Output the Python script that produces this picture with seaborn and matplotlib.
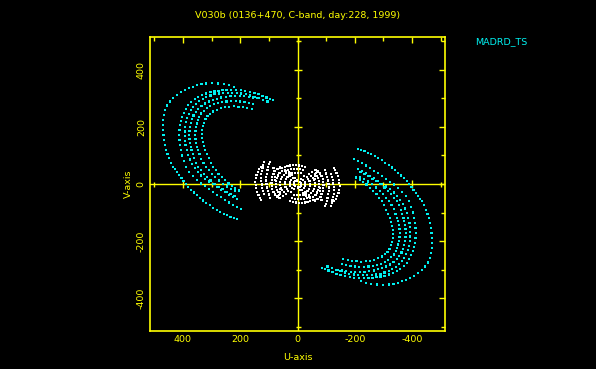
import pandas as pd
import matplotlib
matplotlib.use('Agg')
import matplotlib.pyplot as plt
from matplotlib.ticker import MultipleLocator
import seaborn as sns

# (u, v) samples, upper-left crescent of the MADRD_TS baseline
madrd_t1 = [(223,341),(240,346),(258,350),(279,352),(300,353),(318,352),(335,350),(350,346),(364,341),
            (379,336),(393,330),(408,322),(422,312),(435,301),(446,289),(455,275),(463,260),(467,243),
            (469,225),(470,208),(469,190),(468,172),(466,154),(462,136),(458,119),(454,104),(449,90),
            (442,75),(434,61),(428,52),(422,43),(414,31),(405,20),(398,10),(390,0),(381,-10),(372,-20),
            (362,-30),(352,-40),(341,-49),(330,-58),(318,-67),(306,-75),(294,-83),(282,-90),(270,-97),
            (258,-104),(246,-110),(234,-115),(222,-119),(210,-122)]
madrd_t2 = [(86,293),(95,297),(108,303),(122,309),(136,314),(150,318),(165,322),(182,326),(198,328),
            (215,330),(231,330),(248,330),(262,329),(276,327),(290,324),(304,321),(318,317),(332,312),
            (346,305),(358,297),(371,288),(381,277),(390,264),(397,250),(403,236),(407,222),(410,207),
            (412,190),(413,172),(412,155),(410,137),(407,119),(402,100),(396,80),(388,61),(378,43),
            (366,27),(352,13),(338,2),(324,-8),(310,-18),(296,-28),(282,-38),(268,-47),(254,-56),
            (240,-65),(226,-74),(212,-82),(198,-89)]
madrd_t3 = [(105,289),(120,295),(135,301),(150,306),(165,310),(180,314),(196,317),(212,319),(228,320),
            (244,320),(260,319),(275,317),(290,314),(304,310),(318,305),(331,298),(343,290),(354,281),
            (364,270),(372,258),(379,245),(385,231),(389,216),(392,200),(394,184),(394,168),(393,152),
            (391,136),(387,120),(382,103),(376,86),(368,70),(359,56),(348,42),(336,30),(323,19),
            (310,9),(296,-1),(282,-11),(268,-20),(254,-29),(240,-38),(226,-46),(212,-54)]
madrd_t4 = [(140,300),(155,303),(170,305),(186,307),(202,308),(218,308),(234,307),(250,305),(266,303),
            (281,299),(296,295),(310,289),(323,282),(335,273),(346,263),(355,252),(363,240),(369,227),
            (373,214),(376,200),(377,186),(378,172),(377,158),(376,144),(373,130),(370,119),(366,104),
            (361,90),(354,75),(346,61),(337,48),(327,36),(316,24),(304,12),(290,0),(276,-10),
            (262,-19),(248,-27),(234,-35),(220,-42)]
madrd_t5 = [(155,280),(170,284),(185,287),(200,289),(216,290),(232,290),(248,289),(263,287),(278,284),
            (292,279),(305,273),(317,266),(327,257),(336,247),(343,236),(348,224),(352,212),(354,200),
            (356,186),(357,172),(356,158),(354,144),(351,131),(347,119),(342,104),(336,89),(328,75),
            (320,61),(310,48),(299,36),(287,24),(274,12),(260,0),(246,-9),(232,-17),(218,-24)]
madrd_t6 = [(160,262),(175,266),(190,269),(206,271),(222,272),(238,271),(253,269),(268,265),(282,260),
            (294,254),(305,246),(314,237),(321,227),(326,215),(330,202),(332,189),(333,175),(332,161),
            (330,147),(327,133),(322,119),(316,104),(309,90),(302,75),(295,61),(286,48),(276,36),
            (265,24),(253,13),(241,2),(229,-8),(217,-16),(205,-23)]

# short ground baselines near the origin (one half; the other half is the conjugate)
ground_w1 = [(128,60),(134,52),(139,42),(143,32),(146,20),(147,8),(146,-4),(144,-15),(140,-27),
             (136,-38),(132,-48),(128,-56)]
ground_w2 = [(116,78),(119,68),(122,58),(124,46),(126,34),(126,22),(126,10),(125,-2),(123,-14),
             (120,-26),(117,-36)]
ground_w3 = [(95,78),(99,70),(102,60),(105,48),(107,36),(109,24),(109,12),(108,0),(106,-12),
             (103,-24),(99,-37),(95,-50)]
ground_c1 = [(60,58),(70,52),(78,45),(84,36),(88,26),(90,15),(91,4),(90,-7),(88,-18),(84,-28),
             (78,-37),(70,-44),(62,-50)]
ground_c2 = [(45,50),(55,45),(63,38),(69,30),(73,20),(75,10),(76,0),(75,-10),(72,-20),(67,-29),
             (60,-36),(52,-42)]
ground_c3 = [(30,42),(40,39),(48,33),(54,26),(58,17),(60,7),(60,-3),(58,-13),(54,-22),(48,-29),(40,-34)]
ground_c4 = [(20,32),(28,29),(35,24),(40,17),(43,8),(44,-1),(42,-10),(38,-18),(32,-24),(24,-28)]
ground_c5 = [(10,22),(17,20),(23,15),(26,8),(27,0),(25,-8),(20,-14),(13,-18)]
ground_c6 = [(55,57),(45,60),(35,63),(25,65),(15,66),(5,66),(-5,65),(-15,63),(-25,61)]
ground_c7 = [(42,47),(32,50),(22,52),(12,53),(2,53),(-8,52),(-18,50)]
ground_c8 = [(28,37),(18,39),(8,40),(-2,40),(-12,38)]
ground_r1 = [(3,12),(8,10),(12,6),(13,1),(12,-4),(8,-8)]
ground_s1 = [(84,55),(82,45),(81,35),(80,25),(79,15)]
ground_s2 = [(66,-48),(64,-38),(63,-28),(62,-18)]

x_ticks = [400, 200, 0, -200, -400]
y_ticks = [-400, -200, 0, 200, 400]
title = 'V030b (0136+470, C-band, day:228, 1999)'
legend_label = 'MADRD_TS'

YEL = '#ffff00'
CYAN = '#00f0f0'

rows = []
for trk in [madrd_t1, madrd_t2, madrd_t3, madrd_t4, madrd_t5, madrd_t6]:
    for u, v in trk:
        rows.append((u, v, 'space'))
        rows.append((-u, -v, 'space'))
for trk in [ground_w1, ground_w2, ground_w3, ground_c1, ground_c2, ground_c3, ground_c4, ground_c5,
            ground_c6, ground_c7, ground_c8, ground_r1, ground_s1, ground_s2]:
    for u, v in trk:
        rows.append((u, v, 'ground'))
        rows.append((-u, -v, 'ground'))
df = pd.DataFrame(rows, columns=['u', 'v', 'kind'])

sns.set_style('dark')
plt.rcParams['font.family'] = ['DejaVu Sans']

fig = plt.figure(figsize=(5.96, 3.69), dpi=100, facecolor='black')
ax = fig.add_axes([150/596, 38/369, 295/596, 294/369], facecolor='black')

ax.axhline(0, color=YEL, lw=1, zorder=1)
ax.axvline(0, color=YEL, lw=1, zorder=1)
# ticks along the zero lines
for p in [-500, -300, -100, 100, 300, 500]:
    ax.plot(p, 0, marker='|', ms=3.6, mew=1, color=YEL, zorder=1)
    ax.plot(0, p, marker='_', ms=3.6, mew=1, color=YEL, zorder=1)
for p in [-400, -200, 200, 400]:
    ax.plot(p, 0, marker='|', ms=5.8, mew=1, color=YEL, zorder=1)
    ax.plot(0, p, marker='_', ms=5.8, mew=1, color=YEL, zorder=1)

sns.scatterplot(data=df, x='u', y='v', hue='kind', palette={'space': CYAN, 'ground': 'white'},
                marker='s', s=2.4, linewidth=0, legend=False, ax=ax, zorder=2)

ax.set_xlim(515, -515)
ax.set_ylim(-515, 515)
ax.set_xticks(x_ticks)
ax.set_xticklabels([str(t) for t in x_ticks])
ax.set_yticks(y_ticks)
ax.set_yticklabels([str(t) for t in y_ticks], rotation=90, va='center')
ax.xaxis.set_minor_locator(MultipleLocator(100))
ax.yaxis.set_minor_locator(MultipleLocator(100))
ax.tick_params(which='both', direction='in', top=True, right=True, colors=YEL,
               labelsize=6.8, width=1)
ax.tick_params(which='major', length=4.5, pad=3)
ax.tick_params(which='minor', length=3)
ax.grid(False)
for s in ax.spines.values():
    s.set_color(YEL)
    s.set_linewidth(1.2)

ax.set_xlabel('U-axis', color=YEL, fontsize=6.8, labelpad=6)
ax.set_ylabel('V-axis', color=YEL, fontsize=6.8, labelpad=3)
fig.text(298/596, 1 - 16/369, title, color=YEL, fontsize=6.8, ha='center', va='center')
fig.text(475/596, 1 - 42/369, legend_label, color=CYAN, fontsize=6.8, ha='left', va='center')

fig.savefig('out.png', dpi=100, facecolor='black')
